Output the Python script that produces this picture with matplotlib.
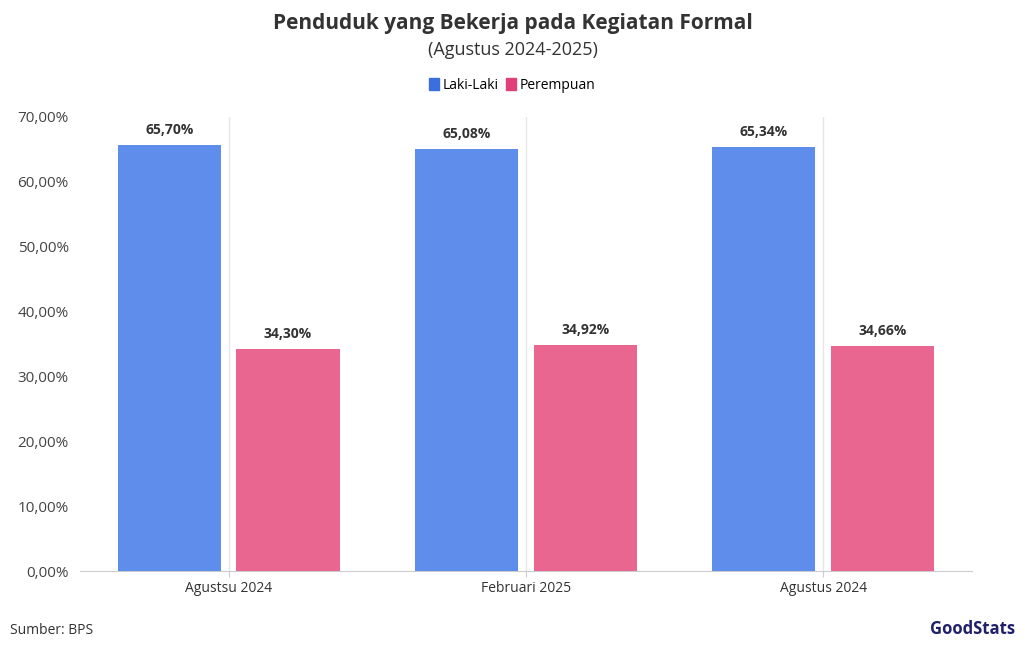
import matplotlib
matplotlib.use('Agg')
import matplotlib.pyplot as plt
from matplotlib.patches import Patch

plt.rcParams['font.family'] = ['Open Sans', 'DejaVu Sans']

categories = ['Agustsu 2024', 'Februari 2025', 'Agustus 2024']
laki = [65.70, 65.08, 65.34]
perempuan = [34.30, 34.92, 34.66]

fig = plt.figure(figsize=(10.25, 6.5), dpi=100)
ax = fig.add_axes([0.078, 0.1215, 0.87, 0.6985])

x = range(len(categories))
w = 0.347
b1 = ax.bar([i - 0.2 for i in x], laki, w, color='#5E8DEC', zorder=3)
b2 = ax.bar([i + 0.2 for i in x], perempuan, w, color='#E8668F', zorder=3)
for bars, vals in ((b1, laki), (b2, perempuan)):
    for r, v in zip(bars, vals):
        ax.text(r.get_x() + r.get_width() / 2, v + 1.2, f'{v:.2f}%'.replace('.', ','),
                ha='center', va='bottom', fontsize=10, fontweight='bold', color='#333333')

ax.set_xlim(-0.5, 2.5)
ax.set_ylim(0, 70)
ax.set_yticks(range(0, 71, 10))
ax.set_yticklabels([f'{v},00%' for v in range(0, 71, 10)], fontsize=11, color='#444444')
ax.set_xticks(list(x))
ax.set_xticklabels(categories, fontsize=10, color='#333333')
ax.tick_params(axis='y', length=0, pad=8)
ax.tick_params(axis='x', length=4, color='#cccccc')
ax.grid(axis='x', color='#e6e6e6', linewidth=1, zorder=0)
for s in ['top', 'right', 'left']:
    ax.spines[s].set_visible(False)
ax.spines['bottom'].set_color('#cccccc')

fig.text(0.5, 0.955, 'Penduduk yang Bekerja pada Kegiatan Formal', ha='center',
         fontsize=15, fontweight='bold', color='#333333')
fig.text(0.5, 0.915, '(Agustus 2024-2025)', ha='center', fontsize=13, color='#333333')
fig.legend(handles=[Patch(color='#3B6FE0', label='Laki-Laki'),
                    Patch(color='#E0407A', label='Perempuan')],
           loc='center', bbox_to_anchor=(0.5, 0.869), ncol=2, frameon=False,
           fontsize=10, handlelength=0.7, handleheight=1.0, handletextpad=0.3,
           columnspacing=0.5)
fig.text(0.01, 0.025, 'Sumber: BPS', fontsize=10, color='#333333')
fig.text(0.99, 0.025, 'GoodStats', ha='right', fontsize=12, fontweight='bold', color='#1f1f6b')

fig.savefig('out.png', dpi=100)
